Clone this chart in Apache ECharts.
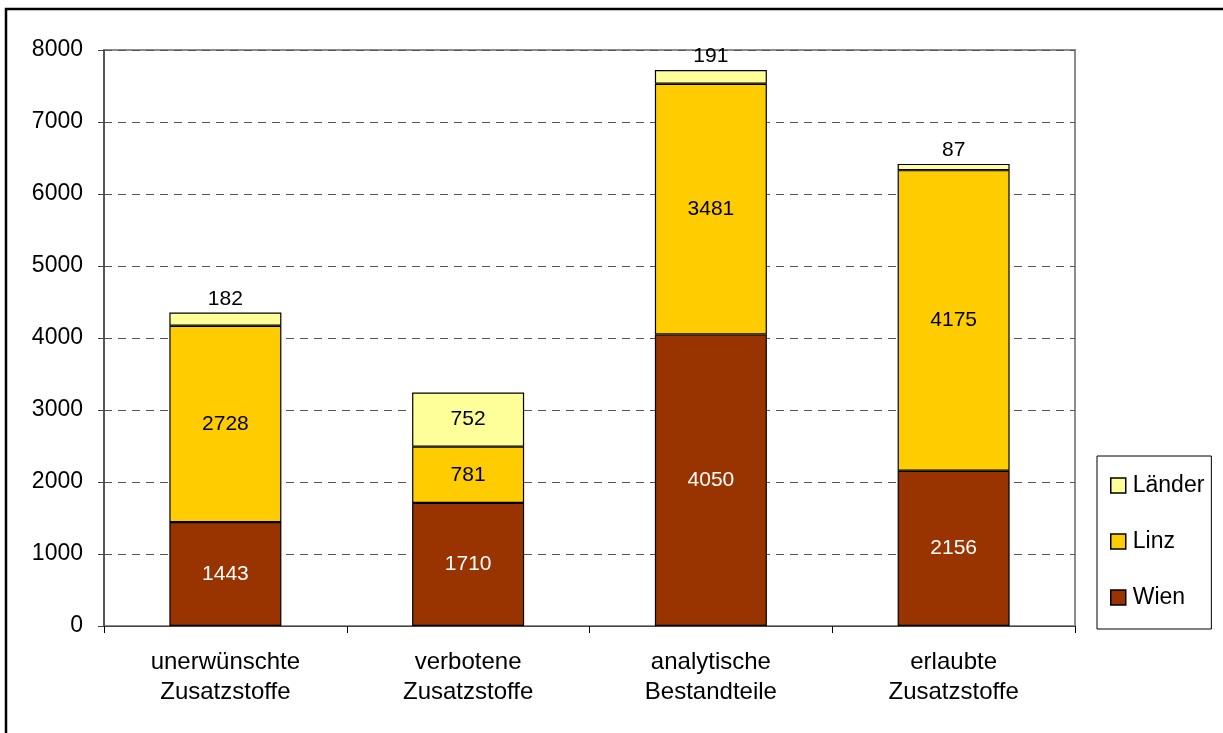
<!DOCTYPE html>
<html>
<head>
<meta charset="utf-8">
<script src="https://cdn.jsdelivr.net/npm/echarts@6/dist/echarts.min.js"></script>
<style>
  html, body { margin: 0; padding: 0; background: #fff; }
  #chart { width: 1223px; height: 733px; }
</style>
</head>
<body>
<div id="chart"></div>
<script>
// Untersuchte Proben nach Kategorie und Untersuchungsstelle
const categories = ['unerwünschte\nZusatzstoffe', 'verbotene\nZusatzstoffe', 'analytische\nBestandteile', 'erlaubte\nZusatzstoffe'];
const wien = [1443, 1710, 4050, 2156];
const linz = [2728, 781, 3481, 4175];
const laender = [182, 752, 191, 87];
// where the Länder value is written: inside the segment or above the bar
const laenderLabelPos = ['top', 'inside', 'top', 'top'];
const yTicks = { min: 0, max: 8000, interval: 1000 };

const font = 'Liberation Sans, Arial, sans-serif';
const chart = echarts.init(document.getElementById('chart'));

const barBase = {
  type: 'bar',
  stack: 'total',
  barWidth: 112,
  itemStyle: { borderColor: '#000', borderWidth: 1.2 }
};

chart.setOption({
  backgroundColor: '#fff',
  animation: false,
  graphic: [{
    type: 'rect',
    shape: { x: 6, y: 9, width: 1260, height: 760 },
    style: { fill: 'none', stroke: '#000', lineWidth: 2.5 },
    silent: true
  }],
  grid: {
    left: 104, right: 148, top: 50, bottom: 107,
    show: true, borderColor: '#8c8c8c', borderWidth: 2, backgroundColor: 'transparent'
  },
  legend: {
    orient: 'vertical',
    left: 1097, top: 456,
    padding: [18, 7, 20, 13],
    itemGap: 33,
    itemWidth: 15, itemHeight: 15,
    icon: 'rect',
    borderColor: '#000', borderWidth: 1,
    backgroundColor: '#fff',
    textStyle: { fontFamily: font, fontSize: 23, color: '#000', padding: [0, 0, 0, 2] },
    itemStyle: { borderColor: '#000', borderWidth: 1.5 },
    data: ['Länder', 'Linz', 'Wien']
  },
  xAxis: {
    type: 'category',
    data: categories,
    boundaryGap: true,
    axisLine: { lineStyle: { color: '#444', width: 1.2 } },
    axisTick: { show: true, length: 7, lineStyle: { color: '#000' } },
    axisLabel: { fontFamily: font, fontSize: 24, color: '#000', lineHeight: 30, margin: 21 }
  },
  yAxis: {
    type: 'value',
    min: yTicks.min, max: yTicks.max, interval: yTicks.interval,
    axisLine: { show: true, lineStyle: { color: '#444', width: 1.5 } },
    axisTick: { show: true, length: 6, lineStyle: { color: '#444' } },
    axisLabel: { fontFamily: font, fontSize: 23, color: '#000', margin: 21, formatter: v => String(v) },
    splitLine: { lineStyle: { color: '#555', type: [8, 6], width: 1 } }
  },
  series: [
    Object.assign({}, barBase, {
      name: 'Wien',
      data: wien,
      itemStyle: Object.assign({}, barBase.itemStyle, { color: '#993300' }),
      label: { show: true, position: 'inside', color: '#fff', fontFamily: font, fontSize: 21 }
    }),
    Object.assign({}, barBase, {
      name: 'Linz',
      data: linz,
      itemStyle: Object.assign({}, barBase.itemStyle, { color: '#ffcc00' }),
      label: { show: true, position: 'inside', color: '#000', fontFamily: font, fontSize: 21 }
    }),
    Object.assign({}, barBase, {
      name: 'Länder',
      data: laender.map((v, i) => ({
        value: v,
        label: { position: laenderLabelPos[i], distance: 3 }
      })),
      itemStyle: Object.assign({}, barBase.itemStyle, { color: '#ffff99' }),
      label: { show: true, color: '#000', fontFamily: font, fontSize: 21 }
    })
  ]
});
</script>
</body>
</html>
